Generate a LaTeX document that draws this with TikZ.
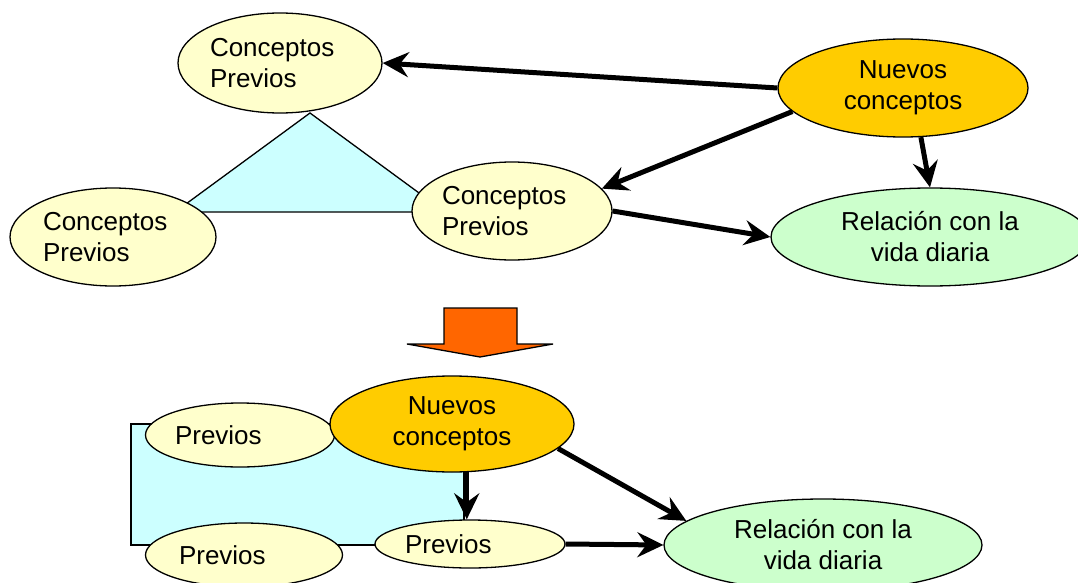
\documentclass[tikz,border=0pt]{standalone}
\usepackage{fontspec}
\setmainfont{Liberation Sans}
\usetikzlibrary{shapes.geometric,arrows.meta}
\definecolor{paleyellow}{HTML}{FFFFCC}
\definecolor{gold}{HTML}{FFCC00}
\definecolor{palegreen}{HTML}{CCFFCC}
\definecolor{palecyan}{HTML}{CCFFFF}
\definecolor{bigorange}{HTML}{FF6600}
\begin{document}
\begin{tikzpicture}[x=1pt,y=-1pt,
  bubble/.style={ellipse,draw,line width=1.3pt,inner sep=0pt,font=\fontsize{26}{31}\selectfont},
  prevtwo/.style={bubble,fill=paleyellow,text width=140pt,align=left},
  prevone/.style={bubble,fill=paleyellow,text width=130pt,align=left},
  newc/.style={bubble,fill=gold,align=center},
  daily/.style={bubble,fill=palegreen,align=center},
  backshape/.style={draw,line width=1.3pt,fill=palecyan},
  link/.style={line width=5pt,-{Stealth[length=26pt,width=25pt,inset=9pt]}},
]
\useasboundingbox (0,0) rectangle (1078,583);

% ---------- top part ----------
\draw[backshape] (175,212) -- (310,113) -- (445,212) -- cycle;
\node[prevtwo,minimum width=204pt,minimum height=100pt] (A) at (280,63) {Conceptos\\Previos};
\node[prevtwo,minimum width=206pt,minimum height=98pt] (B) at (113,237) {Conceptos\\Previos};
\node[prevtwo,minimum width=200pt,minimum height=98pt] (C) at (512,211) {Conceptos\\Previos};
\node[newc,minimum width=250pt,minimum height=98pt] (N) at (903,88) {Nuevos\\conceptos};
\node[daily,minimum width=318pt,minimum height=98pt] (R) at (930,237) {Relación con la\\vida diaria};

\draw[link] (N.west) -- (A.east);
\draw[link] (N.192) -- (C.14);
\draw[link] (N.290) -- (R.north);
\draw[link] (C.east) -- (R.west);

% ---------- big arrow ----------
\draw[line width=1.3pt,fill=bigorange] (444,308) -- (517,308) -- (517,344) -- (553,344)
  -- (480,357) -- (407,344) -- (444,344) -- cycle;

% ---------- bottom part ----------
\draw[backshape] (131,424) rectangle (464,545);
\node[prevone,minimum width=189pt,minimum height=64pt] (P1) at (240,435) {Previos};
\node[prevone,minimum width=197pt,minimum height=64pt] (P2) at (244,555) {Previos};
\node[prevone,minimum width=190pt,minimum height=48pt] (P3) at (470,544) {Previos};
\node[newc,minimum width=244pt,minimum height=96pt] (N2) at (452,424) {Nuevos\\conceptos};
\node[daily,minimum width=318pt,minimum height=92pt] (R2) at (823,545) {Relación con la\\vida diaria};

\draw[link] (N2.287) -- (N2.287 |- P3.north);
\draw[link] (N2.347) -- (R2.170);
\draw[link] (P3.east) -- (R2.west);
\end{tikzpicture}
\end{document}
